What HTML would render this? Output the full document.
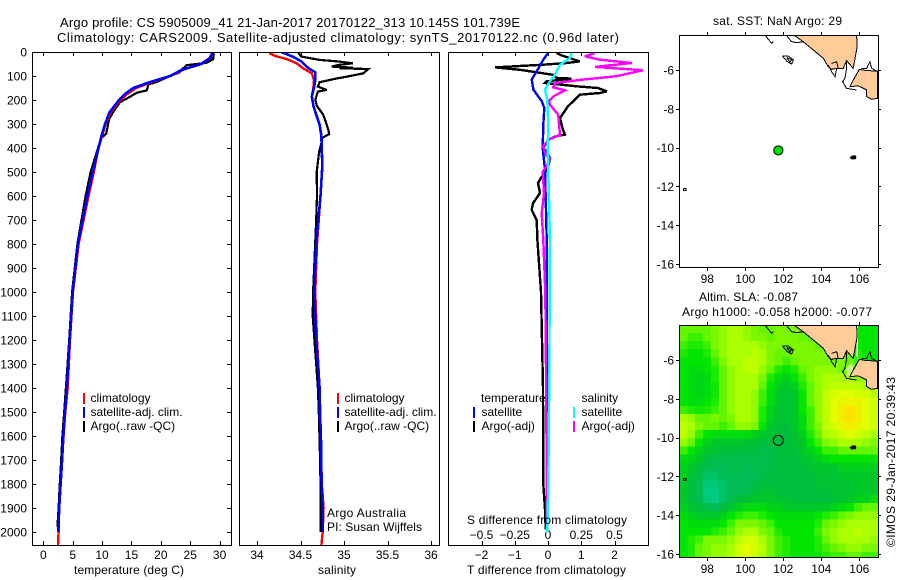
<!DOCTYPE html>
<html lang="en">
<head>
<meta charset="utf-8">
<title>Argo profile chart</title>
<style>
html,body{margin:0;padding:0;background:#fff;}
svg{display:block;}
text{font-family:"Liberation Sans",sans-serif;font-size:12px;fill:#000;}
.big{font-size:13px;}
</style>
</head>
<body>
<svg id="chart" xmlns="http://www.w3.org/2000/svg" width="900" height="580" viewBox="0 0 900 580">
  <rect x="0" y="0" width="900" height="580" fill="#fff"/>
  <defs>
    <clipPath id="clipT"><rect x="32" y="52" width="200" height="494"/></clipPath>
    <clipPath id="clipS"><rect x="239" y="52" width="201" height="494"/></clipPath>
    <clipPath id="clipD"><rect x="448" y="52" width="201" height="494"/></clipPath>
    <clipPath id="clipM1"><rect x="679" y="35" width="199" height="232"/></clipPath>
    <clipPath id="clipM2"><rect x="679" y="325" width="199" height="232"/></clipPath>
  </defs>

  <text class="big" x="60" y="27" textLength="460" lengthAdjust="spacing">Argo profile: CS 5905009_41 21-Jan-2017 20170122_313 10.145S 101.739E</text>
  <text class="big" x="57" y="42" textLength="562" lengthAdjust="spacing">Climatology: CARS2009. Satellite-adjusted climatology: synTS_20170122.nc (0.96d later)</text>

  <g id="maps"></g>
  <g id="profiles"></g>

  <text x="74" y="574" textLength="110" lengthAdjust="spacing">temperature (deg C)</text>
  <text x="318" y="574" textLength="38" lengthAdjust="spacing">salinity</text>
  <text x="467" y="574" textLength="159" lengthAdjust="spacing">T difference from climatology</text>
  <text x="467" y="524" textLength="160" lengthAdjust="spacing">S difference from climatology</text>

  <text x="327" y="517" textLength="79" lengthAdjust="spacing">Argo Australia</text>
  <text x="327" y="531" textLength="95" lengthAdjust="spacing">PI: Susan Wijffels</text>

  <text x="713" y="25" textLength="129" lengthAdjust="spacing">sat. SST: NaN Argo: 29</text>
  <text x="699" y="301" textLength="99" lengthAdjust="spacing">Altim. SLA: -0.087</text>
  <text x="682" y="316" textLength="190" lengthAdjust="spacing">Argo h1000: -0.058 h2000: -0.077</text>
  <text transform="translate(895 547) rotate(-90)" x="0" y="0" textLength="170" lengthAdjust="spacing">©IMOS 29-Jan-2017 20:39:43</text>
</svg>

<script>
// ---- profile data (depth in m) ----
const tempDepths = [0,25,50,75,100,125,150,175,200,250,300,350,400,500,600,800,1000,1200,1400,1500,1600,1700,1800,1900,2000];
const tempSatellite = [28.9,28.4,26.9,23.5,21.6,18.2,15.3,13.9,12.9,11.3,10.5,9.9,9.4,8.4,7.5,5.9,5.0,4.5,4.0,3.7,3.4,3.2,2.95,2.7,2.55];
const tempClimDepths = [0,25,50,75,100,125,150,175,200,250,300,350,400,500,600,800,1000,1200,1400,1500,1600,1700,1800,1900,2000,2054];
const tempClimatology = [28.8,28.3,26.8,23.7,21.7,18.5,15.8,14.3,13.1,11.5,10.6,10.0,9.4,8.6,7.7,6.0,5.05,4.55,4.15,3.75,3.45,3.2,2.95,2.7,2.6,2.5];
const tempArgoDepths = [0,10,30,45,55,70,85,100,125,135,160,170,190,210,250,280,340,360,400,500,600,800,1000,1200,1400,1500,1600,1700,1800,1900,1980];
const tempArgo = [28.9,29.0,28.9,27.8,24.4,23.7,23.2,21.6,19.3,17.9,17.6,15.9,14.5,13.0,11.9,11.2,10.7,9.8,9.3,8.05,7.2,5.8,4.9,4.4,3.85,3.55,3.25,3.05,2.8,2.6,2.4];

const salSatDepths = [0,21,39,67,85,115,150,185,226,261,303,351,476,601,800,1000,1200,1400,1500,1600,1800,1900,2000];
const salSatellite = [34.28,34.42,34.51,34.59,34.67,34.67,34.655,34.63,34.65,34.68,34.72,34.74,34.75,34.73,34.68,34.66,34.68,34.72,34.72,34.735,34.743,34.755,34.755];
const salClimDepths = [4,17,29,47,68,89,117,151,185,226,261,303,351,476,601,800,1000,1200,1400,1600,1800,1900,2000,2054];
const salClimatology = [34.14,34.21,34.34,34.456,34.53,34.63,34.655,34.647,34.63,34.65,34.68,34.72,34.74,34.75,34.73,34.69,34.67,34.69,34.72,34.735,34.745,34.765,34.755,34.74];
const salArgoDepths = [4,19,33,40,47,54,61,65,68,71,89,103,110,126,144,158,165,199,226,260,323,342,358,378,420,500,600,700,1000,1100,1400,1500,1700,1800,2000];
const salArgo = [34.475,34.51,34.72,34.95,35.10,34.93,34.86,35.10,34.95,35.28,35.22,35.03,34.92,34.72,34.70,34.80,34.70,34.67,34.69,34.76,34.82,34.83,34.75,34.74,34.713,34.686,34.69,34.68,34.645,34.64,34.7,34.71,34.725,34.73,34.73];

const dTSatDepths = [4,32,81,115,157,205,233,303,400,492,658,783,1000,1500,2000];
const dTSatellite = [0,-0.14,-0.34,-0.49,-0.44,-0.19,-0.11,-0.14,-0.16,-0.09,-0.06,-0.04,-0.03,-0.03,-0.02];
const dTArgoDepths = [4,14,39,46,53,64,74,95,108,111,122,129,143,150,164,171,178,226,275,324,344,350,365,400,408,442,483,520,546,588,630,658,700,783,1000,1200,1400,1800,1908,1990];
const dTArgo = [0.26,0.41,0.96,0.56,-0.15,-1.59,-0.84,0.15,0.26,0.71,-0.04,-0.09,0.86,1.5,1.77,1.56,0.96,0.6,0.36,0.45,0.51,0.26,0.01,-0.15,-0.09,0.06,0,-0.19,-0.3,-0.24,-0.45,-0.49,-0.34,-0.32,-0.21,-0.18,-0.15,-0.14,-0.09,-0.07];
const dSSatDepths = [4,25,53,95,122,157,199,303,400,492,658,783,1350,1800,2000];
const dSSatellite = [0.178,0.165,0.09,0.053,0.015,-0.023,-0.005,0.002,-0.002,0.002,0.01,0.015,0.01,0.002,-0.005];
const dSArgoDepths = [4,18,32,46,62,76,101,115,129,147,160,185,205,220,261,346,365,392,430,442,471,499,589,672,783,1000,1500,1990];
const dSArgo = [0.353,0.278,0.39,0.63,0.353,0.715,0.516,0.265,0.053,0.04,0.128,0.04,0.007,0.015,0.077,0.09,0.007,-0.037,-0.015,0.015,-0.005,-0.04,-0.03,-0.047,-0.035,-0.02,-0.012,-0.01];

// ---- tick labels ----
const depthTicks = [0,100,200,300,400,500,600,700,800,900,1000,1100,1200,1300,1400,1500,1600,1700,1800,1900,2000];
const tempTicks = [0,5,10,15,20,25,30];
const salTicks = [34,34.5,35,35.5,36];
const dTTicks = [-2,-1,0,1,2];
const dSTicks = [-0.5,-0.25,0,0.25,0.5];
const dSTickLabels = ['\u22120.5','\u22120.25','0','0.25','0.5'];
const lonTicks = [98,100,102,104,106];
const latTicks = [-6,-8,-10,-12,-14,-16];

// ---- map data ----
const argoLon = 101.739;
const argoLat = -10.145;
const mapLonStart = 96.53;
const mapLatStart = -4.19;
const cellDeg = 0.4177;
const slaRows = [
[0,0,0,0,1,2,3,3,2,1,0,0,1,1,1,0,0,0,0,0,0,0,-3,-3,-3],
[0,-1,-1,0,1,2,3,3,2,1,1,0,1,1,1,0,0,0,0,0,0,0,-3,-3,-3],
[-1,-2,-2,-1,1,2,3,3,3,3,2,1,1,1,1,1,1,0,0,0,0,0,-3,-3,-3],
[-2,-3,-3,-2,0,2,3,3,3,4,3,1,0,0,1,1,1,1,1,1,0,0,-2,-3,-3],
[-3,-3,-3,-3,-1,1,3,3,4,4,3,1,0,-1,0,1,1,1,1,1,1,0,-1,-3,-3],
[-3,-4,-4,-3,-2,0,2,3,4,4,2,0,-2,-3,-2,0,1,2,2,2,1,1,1,1,1],
[-3,-4,-4.5,-4,-2,0,2,3,3,3,1,-2,-4,-5,-3,-1,1,2,3,3,3,3,2,2,2],
[-3,-4,-4.5,-4,-2.5,0,2,3,3,3,0,-3,-5,-6,-5,-2,0,2,3,4,4,4,4,3,3],
[-3,-4,-4.5,-4,-2.5,0,2,3,3,2,-1,-4,-6,-7,-6,-3,0,2,4,5,6,6,5,5,4],
[-3,-4,-4,-3,-2,0,2,3,3,2,-1,-4,-6,-7,-6,-3,0,2,4,6,7,7,7,6,5],
[-1,-2,-2.5,-2,-1,0,2,3,3,2,-2,-5,-7,-7,-6,-3,-1,2,4,6,8,9,8,6,5],
[3,2,0,0,1,0,1,3,3,2,-2,-5,-7,-7,-6,-4,-1,2,4,6,8,9,8,6,5],
[4,3,1,0,0,-1,0,2,2,1,-3,-6,-7,-8,-6,-4,-1,1,4,5,7,8,7,6,5],
[4,2,-1,-3,-4,-4,-4,-4,-4,-5,-6,-7,-8,-8,-7,-5,-2,0,3,4,5,6,5,4,3],
[2,0,-3,-5,-6,-6,-6,-6,-7,-7,-8,-8,-8,-8,-7,-6,-3,-1,1,2,3,3,3,2,1],
[-1,-3,-5,-6,-7,-8,-8,-8,-8,-8,-9,-9,-8,-8,-8,-6,-5,-3,-1,-1,0,0,0,0,0],
[-4,-5,-6,-8,-9,-9,-9,-9,-9,-9,-9,-9,-8,-8,-8,-7,-6,-5,-4,-3,-3,-3,-3,-3,-3],
[-5,-6,-8,-9,-10,-10,-9,-9,-10,-9,-9,-9,-8,-8,-8,-8,-7,-6,-6,-6,-5,-5,-5,-5,-5],
[-5,-7,-9,-11,-11,-10,-10,-10,-10,-10,-9,-8,-8,-8,-8,-8,-8,-7,-7,-7,-6,-6,-6,-6,-6],
[-6,-8,-10,-12,-12,-11,-10,-10,-10,-9,-8,-8,-8,-8,-8,-8,-8,-7,-7,-7,-7,-7,-6,-6,-6],
[-6,-8,-10,-13,-13,-11,-10,-10,-9,-8,-7,-7,-8,-8,-8,-8,-8,-8,-8,-7,-7,-7,-6,-6,-6],
[-6,-8,-10,-12,-13,-11,-9,-8,-7,-6,-6,-6,-7,-7,-8,-8,-8,-8,-8,-7,-7,-6,-5,-5,-4],
[-5,-7,-8,-9,-10,-8,-6,-5,-4,-4,-4,-5,-5,-6,-6,-6,-6,-6,-6,-5,-4,-3,-1,0,0],
[-4,-5,-6,-6,-6,-5,-3,-2,-1,-1,-2,-3,-4,-4,-4,-4,-4,-3,-2,-1,0,1,2,2,2],
[-3,-4,-4,-4,-4,-3,-1,1,1,1,0,-1,-3,-3,-3,-3,-3,-2,0,1,2,3,3,3,3],
[-3,-3,-3,-3,-2,-1,0,2,3,3,1,0,-2,-3,-3,-3,-3,-1,1,2,3,3,4,3,3],
[-3,-2,-1,1,1,1,2,4,5,5,3,1,-1,-2,-3,-3,-3,-2,0,2,3,3,3,3,2],
[-3,-2,0,1,2,2,3,5,6,5,4,1,-1,-2,-3,-3,-3,-2,-1,0,1,2,2,1,1],
[-3,-2,0,1,2,2,3,5,6,5,3,1,-1,-2,-3,-3,-3,-3,-2,-1,-1,0,0,-1,-1]
];
const landSumatraLon = [102.56,103.05,103.58,104.11,104.37,104.54,104.81,105.16,105.33,105.68,105.89,105.86];
const landSumatraLat = [-4.2,-4.54,-4.97,-5.40,-5.83,-5.97,-5.91,-5.91,-5.52,-5.91,-4.80,-4.2];
const landJavaLon = [106.96,106.39,106.0,105.68,105.51,105.95,106.39,106.39,106.65,106.96];
const landJavaLat = [-6.05,-6.03,-5.97,-6.52,-6.86,-6.82,-7.03,-7.37,-7.51,-7.46];
const contourLons = [
 [101.04,101.21,101.39,101.47],
 [102.14,102.44,102.70,103.09],
 [101.95,102.26,102.53,102.44,102.21,101.95],
 [102.18,102.44,102.35,102.18],
 [104.37,104.54,104.72,104.81],
 [104.54,104.81,104.89],
 [105.33,105.33,105.25,105.12,105.33,105.86],
 [106.12,106.39,106.56,106.65,106.96]
];
const contourLats = [
 [-4.2,-4.42,-4.63,-4.54],
 [-4.2,-4.54,-4.59,-4.54],
 [-5.28,-5.28,-5.48,-5.69,-5.57,-5.28],
 [-5.35,-5.48,-5.59,-5.35],
 [-5.74,-6.09,-6.34,-5.91],
 [-5.66,-5.57,-5.91],
 [-5.57,-5.91,-6.43,-6.6,-6.95,-7.03],
 [-5.91,-5.91,-5.57,-5.91,-6.09]
];
const christmasLon = [105.5,105.62,105.82,105.82,105.6];
const christmasLat = [-10.52,-10.42,-10.42,-10.58,-10.6];
const cocosLon = [96.76,96.88,96.88,96.76,96.76];
const cocosLat = [-12.1,-12.1,-12.2,-12.2,-12.1];

// ---- axis functions ----
const yD = d => 52 + d * 0.24;
const xT = t => 43.3 + t * 5.877;
const xS = s => 257 + (s - 34) * 87;
const xDT = v => 548 + v * 33.25;
const xDS = v => 548 + v * 133;
const lonX = lon => 707.3 + (lon - 98) * 19;
const latYTop = lat => 70 + (-6 - lat) * 19.4;
const latYBot = lat => 360 + (-6 - lat) * 19.4;

const SVGNS = 'http://www.w3.org/2000/svg';
const profiles = document.getElementById('profiles');
const maps = document.getElementById('maps');

function el(parent, tag, attrs, text) {
  const e = document.createElementNS(SVGNS, tag);
  for (const k in attrs) e.setAttribute(k, attrs[k]);
  if (text !== undefined) e.textContent = text;
  parent.appendChild(e);
  return e;
}

function line(parent, name, x1, y1, x2, y2, color, width) {
  const e = el(parent, 'line', {x1, y1, x2, y2, stroke: color, 'stroke-width': width, 'shape-rendering': 'crispEdges'});
  
  
  return e;
}

function label(parent, name, x, y, anchor, text) {
  const e = el(parent, 'text', {x, y, 'text-anchor': anchor}, text);
  
  
  return e;
}

function box(parent, name, x0, y0, x1, y1) {
  const e = el(parent, 'rect', {x: x0 + 0.5, y: y0 + 0.5, width: x1 - x0, height: y1 - y0, fill: 'none', stroke: '#000', 'stroke-width': 1, 'shape-rendering': 'crispEdges'});
  
  
  return e;
}

function series(parent, name, depths, values, xf, color, width, clip) {
  const pts = depths.map((d, i) => xf(values[i]).toFixed(1) + ',' + yD(d).toFixed(1)).join(' ');
  const e = el(parent, 'polyline', {points: pts, fill: 'none', stroke: color, 'stroke-width': width, 'stroke-linejoin': 'miter', 'stroke-miterlimit': 3, 'shape-rendering': 'crispEdges', 'clip-path': 'url(#' + clip + ')'});
  
  
  return e;
}

// ---- panel 1: temperature ----
depthTicks.forEach(d => {
  const y = Math.round(yD(d)) + 0.5;
  line(profiles, 'depth-tick-left', 32, y, 36, y, '#000', 1);
  line(profiles, 'depth-tick-right', 227, y, 231, y, '#000', 1);
  label(profiles, 'depth-tick-label', 27, yD(d) + 4.5, 'end', String(d));
});
tempTicks.forEach(t => {
  const x = Math.round(xT(t)) + 0.5;
  line(profiles, 'temperature-tick-top', x, 52, x, 56, '#000', 1);
  line(profiles, 'temperature-tick-bottom', x, 541, x, 545, '#000', 1);
  label(profiles, 'temperature-tick-label', xT(t), 559, 'middle', String(t));
});
series(profiles, 'temperature-argo-line', tempArgoDepths, tempArgo, xT, '#000', 2.2, 'clipT');
series(profiles, 'temperature-climatology-line', tempClimDepths, tempClimatology, xT, '#f00', 2.4, 'clipT');
series(profiles, 'temperature-satellite-line', tempDepths, tempSatellite, xT, '#00f', 2.6, 'clipT');
box(profiles, 'temperature-panel-frame', 32, 52, 231, 545);

// ---- panel 2: salinity ----
salTicks.forEach(s => {
  const x = Math.round(xS(s)) + 0.5;
  line(profiles, 'salinity-tick-top', x, 52, x, 56, '#000', 1);
  line(profiles, 'salinity-tick-bottom', x, 541, x, 545, '#000', 1);
  label(profiles, 'salinity-tick-label', xS(s), 559, 'middle', String(s));
});
series(profiles, 'salinity-argo-line', salArgoDepths, salArgo, xS, '#000', 2.2, 'clipS');
series(profiles, 'salinity-climatology-line', salClimDepths, salClimatology, xS, '#f00', 2.4, 'clipS');
series(profiles, 'salinity-satellite-line', salSatDepths, salSatellite, xS, '#00f', 2.6, 'clipS');
box(profiles, 'salinity-panel-frame', 239, 52, 439, 545);

// ---- panel 3: differences ----
dTTicks.forEach(v => {
  const x = Math.round(xDT(v)) + 0.5;
  line(profiles, 't-diff-tick-top', x, 52, x, 56, '#000', 1);
  line(profiles, 't-diff-tick-bottom', x, 541, x, 545, '#000', 1);
  label(profiles, 't-diff-tick-label', xDT(v), 559, 'middle', v < 0 ? '\u2212' + Math.abs(v) : String(v));
});
dSTicks.forEach((v, i) => {
  label(profiles, 's-diff-tick-label', xDS(v), 539, 'middle', dSTickLabels[i]);
});
series(profiles, 't-diff-argo-line', dTArgoDepths, dTArgo, xDT, '#000', 2.4, 'clipD');
series(profiles, 't-diff-satellite-line', dTSatDepths, dTSatellite, xDT, '#00f', 2.4, 'clipD');
series(profiles, 's-diff-argo-line', dSArgoDepths, dSArgo, xDS, '#f0f', 2.4, 'clipD');
series(profiles, 's-diff-satellite-line', dSSatDepths, dSSatellite, xDS, '#0ff', 2.4, 'clipD');
box(profiles, 'difference-panel-frame', 448, 52, 648, 545);

// ---- legends ----
function legendEntry(name, x, y0, y1, color, text, tx, ty) {
  line(profiles, name + '-swatch', x, y0, x, y1, color, 2);
  label(profiles, name + '-label', tx, ty, 'start', text);
}
legendEntry('temp-legend-climatology', 84, 393, 404, '#f00', 'climatology', 90.5, 402);
legendEntry('temp-legend-satellite', 84, 407, 418, '#00f', 'satellite-adj. clim.', 90.5, 416);
legendEntry('temp-legend-argo', 84, 421, 432, '#000', 'Argo(..raw -QC)', 90.5, 430);
legendEntry('sal-legend-climatology', 338, 393, 404, '#f00', 'climatology', 344.5, 402);
legendEntry('sal-legend-satellite', 338, 407, 418, '#00f', 'satellite-adj. clim.', 344.5, 416);
legendEntry('sal-legend-argo', 338, 421, 432, '#000', 'Argo(..raw -QC)', 344.5, 430);
label(profiles, 'diff-legend-temperature-heading', 481, 402, 'start', 'temperature');
label(profiles, 'diff-legend-salinity-heading', 581.5, 402, 'start', 'salinity');
legendEntry('diff-legend-t-satellite', 474, 407, 418, '#00f', 'satellite', 481.5, 416);
legendEntry('diff-legend-t-argo', 474, 421, 432, '#000', 'Argo(-adj)', 481.5, 430);
legendEntry('diff-legend-s-satellite', 574, 407, 418, '#0ff', 'satellite', 581.5, 416);
legendEntry('diff-legend-s-argo', 574, 421, 432, '#f0f', 'Argo(-adj)', 581.5, 430);

// ---- maps ----
const colorStops = [[-13,0,205,130],[-10,0,190,85],[-8,0,190,60],[-6,0,200,40],[-3,0,230,0],[-1,60,240,0],[0,100,245,0],[3,170,255,0],[6,225,255,0],[9,255,225,0]];
function slaColor(v) {
  for (let i = 1; i < colorStops.length; i++) {
    if (v <= colorStops[i][0]) {
      const a = colorStops[i - 1], b = colorStops[i];
      const f = Math.max(0, (v - a[0]) / (b[0] - a[0]));
      return 'rgb(' + [1, 2, 3].map(k => Math.round(a[k] + (b[k] - a[k]) * f)).join(',') + ')';
    }
  }
  return 'rgb(255,225,0)';
}

function polyPoints(lons, lats, yf) {
  return lons.map((lo, i) => lonX(lo).toFixed(1) + ',' + yf(lats[i]).toFixed(1)).join(' ');
}

function drawMap(yf, prefix, clip) {
  const g = el(maps, 'g', {'clip-path': 'url(#' + clip + ')'});
  
  
  return g;
}

function drawLand(g, yf, prefix) {
  const a = el(g, 'polygon', {points: polyPoints(landSumatraLon, landSumatraLat, yf), fill: '#ffcc99', stroke: '#000', 'stroke-width': 1, 'shape-rendering': 'crispEdges'});
  
  
  const b = el(g, 'polygon', {points: polyPoints(landJavaLon, landJavaLat, yf), fill: '#ffcc99', stroke: '#000', 'stroke-width': 1, 'shape-rendering': 'crispEdges'});
  
  
  contourLons.forEach((lons, i) => {
    const c = el(g, 'polyline', {points: polyPoints(lons, contourLats[i], yf), fill: 'none', stroke: '#000', 'stroke-width': 1, 'shape-rendering': 'crispEdges'});
    
    
  });
  const x = el(g, 'polygon', {points: polyPoints(christmasLon, christmasLat, yf), fill: '#000', stroke: '#000', 'stroke-width': 0.5});
  
  
  const k = el(g, 'polyline', {points: polyPoints(cocosLon, cocosLat, yf), fill: 'none', stroke: '#000', 'stroke-width': 1, 'shape-rendering': 'crispEdges'});
  
  
}

function mapAxes(yf, prefix, top, bottom, xLabelY) {
  box(maps, prefix + '-map-frame', 679, top, 878, bottom);
  lonTicks.forEach(lon => {
    const x = Math.round(lonX(lon)) + 0.5;
    line(maps, prefix + '-lon-tick-top', x, top - 3, x, top, '#000', 1);
    line(maps, prefix + '-lon-tick-bottom', x, bottom, x, bottom + 4, '#000', 1);
    label(maps, prefix + '-lon-tick-label', lonX(lon), xLabelY, 'middle', String(lon));
  });
  latTicks.forEach(lat => {
    const y = Math.round(yf(lat)) + 0.5;
    line(maps, prefix + '-lat-tick-left', 676, y, 679, y, '#000', 1);
    line(maps, prefix + '-lat-tick-right', 878, y, 881, y, '#000', 1);
    label(maps, prefix + '-lat-tick-label', 674, yf(lat) + 4.5, 'end', String(lat));
  });
}

// top: SST map
const topMap = drawMap(latYTop, 'sst', 'clipM1');
drawLand(topMap, latYTop, 'sst');
const topDot = el(topMap, 'circle', {cx: lonX(argoLon), cy: latYTop(argoLat), r: 4.6, fill: '#00e000', stroke: '#000', 'stroke-width': 1});


mapAxes(latYTop, 'sst', 35, 267, 283);

// bottom: SLA map
const botMap = drawMap(latYBot, 'sla', 'clipM2');
slaRows.forEach((row, j) => {
  row.forEach((v, i) => {
    const lon = mapLonStart + i * cellDeg;
    const lat = mapLatStart - j * cellDeg;
    const x0 = lonX(lon), y0 = latYBot(lat);
    const cell = el(botMap, 'rect', {
      x: x0.toFixed(2), y: y0.toFixed(2),
      width: (lonX(lon + cellDeg) - x0 + 0.4).toFixed(2),
      height: (latYBot(lat - cellDeg) - y0 + 0.4).toFixed(2),
      fill: slaColor(v), 'shape-rendering': 'crispEdges'
    });
    
    
  });
});
line(botMap, 'sla-white-coast-edge', lonX(105.9), latYBot(-4.2), lonX(105.9), latYBot(-5.85), '#fff', 1.5);
const whiteBay = el(botMap, 'polygon', {points: polyPoints([105.3,105.64,105.68,105.4], [-6.43,-6.09,-6.52,-6.82], latYBot), fill: '#fff', opacity: 0.55});


drawLand(botMap, latYBot, 'sla');
const botDot = el(botMap, 'circle', {cx: lonX(argoLon), cy: latYBot(argoLat), r: 5, fill: 'none', stroke: '#000', 'stroke-width': 1});


mapAxes(latYBot, 'sla', 325, 557, 573);
</script>
</body>
</html>
